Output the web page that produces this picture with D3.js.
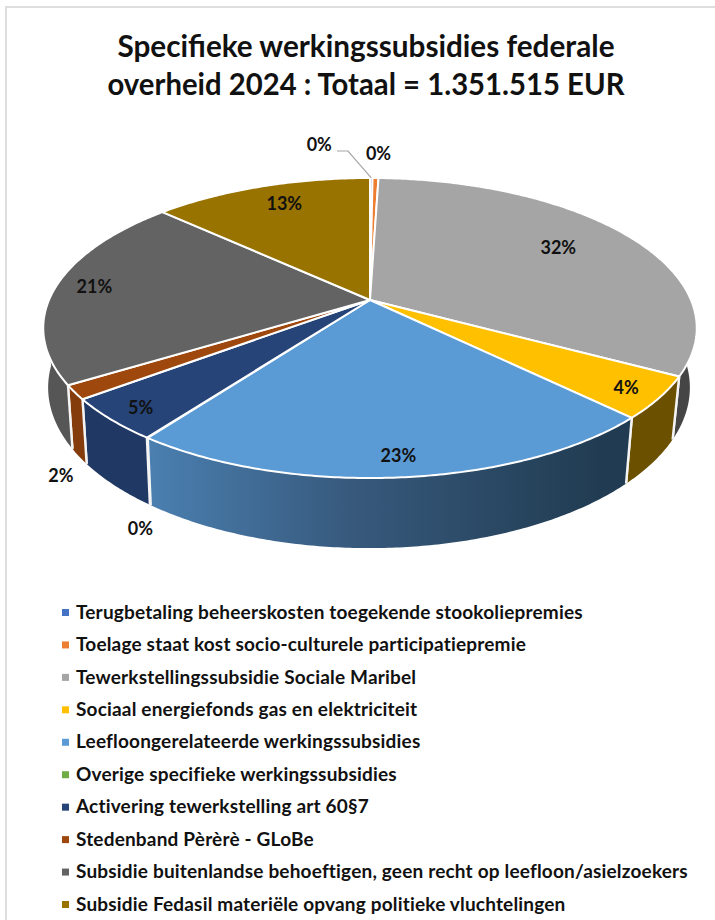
<!DOCTYPE html>
<html>
<head>
<meta charset="utf-8">
<script src="https://d3js.org/d3.v7.min.js"></script>
<style>
  html, body { margin: 0; padding: 0; background: #fff; }
  svg { display: block; }
  text { font-family: Lato, "Open Sans", sans-serif; fill: #111; }
</style>
</head>
<body>
<div id="chart"></div>
<script>
var titleLines = ['Specifieke werkingssubsidies federale', 'overheid 2024 : Totaal = 1.351.515 EUR'];
var categories = [
    'Terugbetaling beheerskosten toegekende stookoliepremies',
    'Toelage staat kost socio-culturele participatiepremie',
    'Tewerkstellingssubsidie Sociale Maribel',
    'Sociaal energiefonds gas en elektriciteit',
    'Leefloongerelateerde werkingssubsidies',
    'Overige specifieke werkingssubsidies',
    'Activering tewerkstelling art 60§7',
    'Stedenband Pèrèrè - GLoBe',
    'Subsidie buitenlandse behoeftigen, geen recht op leefloon/asielzoekers',
    'Subsidie Fedasil materiële opvang politieke vluchtelingen'
];
// percentages
var shares = [0.15, 0.35, 32.49, 4.49, 22.52, 0.05, 4.55, 1.5, 20.9, 13];
var percentLabels = ['0%', '0%', '32%', '4%', '23%', '0%', '5%', '2%', '21%', '13%'];
var topColors = ['#4472c4', '#ed7d31', '#a5a5a5', '#ffc000', '#5b9bd5', '#70ad47', '#264478', '#9e480e', '#636363', '#997300'];
var sideColors = ['#3a5fa5', '#c4652a', '#454545', '#6b5000', 'url(#sideBlue)', '#5a8a3a', '#1f3864', '#843c0c', '#565656', '#7f6000'];

var width = 715, height = 920;
// perspective of the disc: apex, half axes and tilt
var cx = 370, cy = 300, A = 321, B = 144.8, tilt = 0.1867;
// lower rim is a slightly smaller copy, shifted down
var rimShrink = 0.982, rimShift = -1, rimDrop = 63, rimGrow = 0.07, rimRef = 377;
// visible part of the side wall (radians)
var sideFrom = 1.62, sideTo = 4.66;

function project(angle, r) {
    var u = Math.sin(angle) * r, v = -Math.cos(angle) * r;
    var w = 1 - tilt * v;
    return [cx + A * u / w, cy + B * v / w];
}
function lower(p) {
    return [cx + rimShift + (p[0] - cx) * rimShrink, p[1] + rimDrop + rimGrow * (p[1] - rimRef)];
}
function arcPoints(a0, a1) {
    var n = Math.max(2, Math.ceil((a1 - a0) / 0.01));
    return d3.range(n + 1).map(function(i) { return project(a0 + (a1 - a0) * i / n, 1); });
}

var svg = d3.select('#chart').append('svg').attr('width', width).attr('height', height);

var grad = svg.append('defs').append('linearGradient').attr('id', 'sideBlue')
    .attr('gradientUnits', 'userSpaceOnUse')
    .attr('x1', 150).attr('x2', 600).attr('y1', 0).attr('y2', 0);
grad.append('stop').attr('offset', '0%').attr('stop-color', '#4a7fb0');
grad.append('stop').attr('offset', '45%').attr('stop-color', '#37597c');
grad.append('stop').attr('offset', '100%').attr('stop-color', '#213c52');

// frame of the original screenshot
svg.append('path').attr('d', 'M6,920V7H715').attr('fill', 'none').attr('stroke', '#dedede').attr('stroke-width', 2);

svg.append('g').selectAll('text').data(titleLines).enter().append('text')
    .attr('x', 366)
    .attr('y', function(d, i) { return 57 + i * 38; })
    .attr('text-anchor', 'middle')
    .style('font-size', '30px')
    .style('font-weight', 700)
    .attr('textLength', function(d, i) { return [497, 517][i]; })
    .attr('lengthAdjust', 'spacingAndGlyphs')
    .text(function(d) { return d; });

var pie = d3.pie().sort(null)(shares);
var line = d3.line();

// side walls first, the top face paints over them
var sides = svg.append('g');
pie.forEach(function(d, i) {
    var a0 = Math.max(d.startAngle, sideFrom), a1 = Math.min(d.endAngle, sideTo);
    if (a1 <= a0 || shares[i] < 0.1) return;
    var upper = arcPoints(a0, a1);
    var outline = upper.concat(upper.map(lower).reverse());
    sides.append('path')
        .attr('d', line(outline) + 'Z')
        .attr('fill', sideColors[i])
        .attr('stroke', 'none');
    // white seam where two walls meet
    [a0, a1].forEach(function(a) {
        if (a === sideFrom || a === sideTo) return;
        var p = project(a, 1);
        sides.append('path').attr('d', line([p, lower(p)]))
            .attr('stroke', '#f4f4f4').attr('stroke-width', 2.4).attr('fill', 'none');
    });
});

var faces = svg.append('g');
pie.forEach(function(d, i) {
    var outline = [[cx, cy]].concat(arcPoints(d.startAngle, d.endAngle));
    faces.append('path')
        .attr('d', line(outline) + 'Z')
        .attr('fill', topColors[i])
        .attr('stroke', '#fff')
        .attr('stroke-width', shares[i] < 0.1 ? 0.6 : 2)
        .attr('stroke-linejoin', 'round');
});

// label anchors: radius along the mid angle plus a small offset
var labelR = [1, 1, 0.7, 0.9, 0.9, 1, 0.93, 1, 0.87, 0.8];
var labelDx = [-52, 3, 5, -1, 1, -7, 9, -14, -2, 4];
var labelDy = [-33, -24, -5, 1, 0, 91, -2, 83, -1, -3];
svg.append('g').selectAll('text').data(pie).enter().append('text')
    .attr('x', function(d, i) { return project((d.startAngle + d.endAngle) / 2, labelR[i])[0] + labelDx[i]; })
    .attr('y', function(d, i) { return project((d.startAngle + d.endAngle) / 2, labelR[i])[1] + labelDy[i]; })
    .attr('dy', '.35em')
    .attr('text-anchor', 'middle')
    .style('font-size', '18px')
    .style('font-weight', 700)
    .text(function(d, i) { return percentLabels[i]; });

// leader of the first slice
var leaderEnd = project((pie[0].startAngle + pie[0].endAngle) / 2, 1);
svg.append('path')
    .attr('d', line([[337, 151], [348, 151], leaderEnd]))
    .attr('fill', 'none').attr('stroke', '#a6a6a6').attr('stroke-width', 1.2);

var legendY = d3.scalePoint().domain(categories).range([612, 904]);
var legend = svg.append('g').selectAll('g').data(categories).enter().append('g')
    .attr('transform', function(d) { return 'translate(0,' + legendY(d) + ')'; });
legend.append('rect')
    .attr('x', 62).attr('y', -3).attr('width', 7).attr('height', 7)
    .attr('fill', function(d, i) { return topColors[i]; });
legend.append('text')
    .attr('x', 76).attr('dy', '.35em')
    .style('font-size', '19px')
    .style('letter-spacing', '0.18px')
    .style('font-weight', 700)
    .text(function(d) { return d; });
</script>
</body>
</html>
